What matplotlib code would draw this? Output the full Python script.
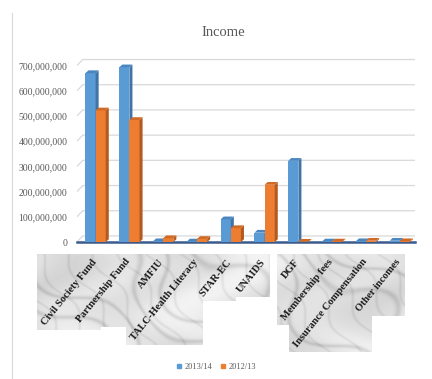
import matplotlib
matplotlib.use('Agg')
import matplotlib.pyplot as plt
import numpy as np
from matplotlib.patches import Polygon, PathPatch
from matplotlib.path import Path
from matplotlib.lines import Line2D

# Income per source, two financial years
categories = ['Civil Society Fund', 'Partnership Fund', 'AMFIU', 'TALC-Health Literacy',
              'STAR-EC', 'UNAIDS', 'DGF', 'Membership fees',
              'Insurance Compensation', 'Other incomes']
income_1314 = [670e6, 693e6, 3e6, 2e6, 90e6, 37e6, 322e6, 2e6, 3e6, 5e6]
income_1213 = [522e6, 484e6, 15e6, 12e6, 55e6, 227e6, 1e6, 2e6, 5e6, 3e6]
series_labels = ['2013/14', '2012/13']
yticks = np.arange(0, 700e6 + 1, 100e6)

W, H = 432, 379
fig = plt.figure(figsize=(W / 100, H / 100), dpi=100)
plt.rcParams['font.family'] = ['Liberation Serif', 'DejaVu Serif']

# background layer for the marble boxes behind category labels
bg = fig.add_axes([0, 0, 1, 1], zorder=0)
bg.set_xlim(0, W)
bg.set_ylim(H, 0)
bg.axis('off')

ax = fig.add_axes([77 / W, 1 - 242 / H, 338 / W, 184 / H], zorder=1)
ax.patch.set_alpha(0)

colors = ['#5B9BD5', '#ED7D31']
sides = ['#3F74A8', '#B35A1E']
tops = ['#4A86C0', '#D06A25']
width = 0.3
dx = 0.09
dy = 11e6
wall = 24e6   # back wall offset of the gridlines
x = np.arange(len(categories))
xmin, xmax = -0.55, len(categories) - 0.55

# gridlines on the back wall, with the short slant of the side wall
for v in yticks:
    ax.plot([xmin, xmin + 0.17, xmax], [v, v + wall, v + wall],
            color='#d9d9d9', lw=0.9, zorder=1, solid_capstyle='butt')

for k, vals in enumerate([income_1314, income_1213]):
    offs = x - width / 2 + k * width
    ax.bar(offs, vals, width=width, color=colors[k], zorder=3, align='center')
    for xc, h in zip(offs, vals):
        x0, x1 = xc - width / 2, xc + width / 2
        ax.add_patch(Polygon([(x1, 0), (x1 + dx, dy), (x1 + dx, h + dy), (x1, h)],
                             closed=True, color=sides[k], zorder=3, lw=0))
        ax.add_patch(Polygon([(x0, h), (x1, h), (x1 + dx, h + dy), (x0 + dx, h + dy)],
                             closed=True, color=tops[k], zorder=3, lw=0))

ax.set_xlim(xmin, xmax)
ax.set_ylim(0, 730e6)
ax.set_yticks(yticks)
ax.set_yticklabels(['{:,.0f}'.format(v) if v > 0 else '0' for v in yticks])
for s in ['top', 'right', 'left']:
    ax.spines[s].set_visible(False)
ax.spines['bottom'].set_color('#3B5B8C')
ax.spines['bottom'].set_linewidth(1.8)
ax.tick_params(axis='y', length=0, labelsize=7, labelcolor='#595959', pad=7)
ax.tick_params(axis='x', length=0, pad=11)
ax.set_xticks(x - 0.13)
ax.set_xticklabels(categories, rotation=51, ha='right', rotation_mode='anchor',
                   fontsize=7.5, fontweight='bold', color='#1a1a1a')

fig.text(0.516, 1 - 32 / H, 'Income', ha='center', va='center',
         fontsize=10.5, color='#595959')

handles = [Line2D([], [], marker='s', ls='', color=c, markersize=3.5) for c in colors]
fig.legend(handles, series_labels, loc='center', bbox_to_anchor=(0.5, 1 - 367 / H),
           ncol=2, frameon=False, fontsize=6, handlelength=0.7, handletextpad=0.3,
           columnspacing=0.9, labelcolor='#595959')

fig.add_artist(Line2D([12 / W, 12 / W], [0, 1 - 13 / H], color='#d9d9d9', lw=0.8))

# marble texture clipped to the label extents
fig.canvas.draw()
renderer = fig.canvas.get_renderer()
verts, codes = [], []
pad = 3
for lab in ax.get_xticklabels():
    bb = lab.get_window_extent(renderer)
    l, r = bb.x0 - pad, bb.x1 + pad
    t, b = H - bb.y1 - pad, H - bb.y0 + pad
    verts += [(l, t), (r, t), (r, b), (l, b), (l, t)]
    codes += [Path.MOVETO, Path.LINETO, Path.LINETO, Path.LINETO, Path.CLOSEPOLY]

yy, xx = np.mgrid[0:H, 0:W].astype(float)
warp = 1.6 * np.sin(xx * 0.045 + yy * 0.02) + 1.1 * np.cos(yy * 0.07 - xx * 0.013)
t1 = (xx - yy) * 0.06 + warp
t2 = (xx - 0.6 * yy) * 0.11 + 0.8 * np.sin(yy * 0.09 + xx * 0.03)
cloud = 0.5 + 0.25 * np.sin(xx * 0.05 + np.cos(yy * 0.06) * 2) \
    + 0.25 * np.cos(yy * 0.04 + xx * 0.02)
vein = np.exp(-np.sin(t1) ** 2 * 12) * 0.10 + np.exp(-np.sin(t2) ** 2 * 30) * 0.06
marble = np.clip(0.95 - 0.12 * cloud - vein, 0, 1)
img = bg.imshow(marble, cmap='gray', vmin=0, vmax=1, extent=(0, W, H, 0),
                interpolation='bilinear')
clip = PathPatch(Path(verts, codes), transform=bg.transData, facecolor='none', edgecolor='none')
bg.add_patch(clip)
img.set_clip_path(clip)

fig.savefig('out.png', dpi=100)
